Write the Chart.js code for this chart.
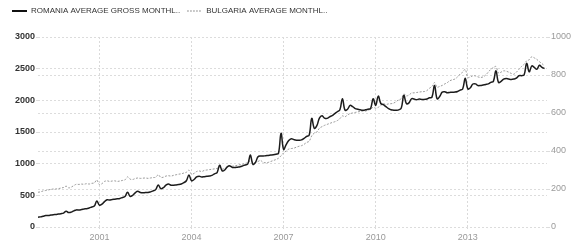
<!DOCTYPE html>
<html>
<head>
<meta charset="utf-8">
<script src="https://cdn.jsdelivr.net/npm/chart.js@4.4.0/dist/chart.umd.min.js"></script>
<style>
  html, body { margin: 0; padding: 0; background: #fff; }
  #wrap { width: 577px; height: 249px; }
</style>
</head>
<body>
<div id="wrap"><canvas id="wageChart"></canvas></div>
<script>
// monthly series, first value = Jan 1999
const firstYear = 1999;

// Romania average gross monthly wage (RON), left axis
const romaniaWages = [
  155, 160, 170, 180, 182, 188, 195, 198, 205, 210, 220, 250,
  228, 235, 255, 270, 268, 275, 285, 288, 300, 315, 330, 410,
  345, 360, 400, 430, 425, 435, 440, 445, 450, 465, 480, 550,
  482, 500, 540, 565, 545, 540, 545, 545, 555, 570, 590, 665,
  605, 620, 660, 680, 660, 660, 665, 670, 680, 700, 730, 820,
  730, 750, 790, 800, 790, 795, 800, 805, 815, 840, 860, 975,
  886, 900, 950, 965, 940, 940, 945, 950, 965, 980, 995, 1135,
  990, 1020, 1110, 1120, 1120, 1125, 1130, 1135, 1140, 1150, 1165, 1480,
  1225, 1300, 1365, 1395, 1380, 1370, 1370, 1375, 1400, 1430, 1450, 1715,
  1560, 1600, 1720, 1756, 1720, 1715, 1740, 1760, 1790, 1820, 1850, 2025,
  1845, 1860, 1920, 1900, 1870, 1860, 1850, 1845, 1850, 1860, 1870, 2025,
  1922, 2067, 1950, 1932, 1900, 1870, 1850, 1845, 1845, 1850, 1880, 2078,
  1947, 1960, 2025, 2020, 2010, 2020, 2015, 2015, 2020, 2040, 2051, 2233,
  2025, 2060, 2129, 2135, 2120, 2125, 2129, 2130, 2140, 2160, 2180, 2347,
  2180, 2200, 2258, 2260, 2233, 2235, 2243, 2250, 2260, 2284, 2300, 2466,
  2284, 2300, 2336, 2345, 2336, 2330, 2336, 2350, 2388, 2390, 2400, 2584,
  2450, 2543, 2520, 2491, 2553, 2520, 2502
];

// Bulgaria average monthly wage (BGN), right axis
const bulgariaWages = [
  183, 185, 190, 192, 195, 198, 200, 200, 202, 205, 208, 215,
  206, 210, 218, 225, 224, 226, 225, 228, 226, 230, 232, 247,
  223, 228, 240, 243, 240, 242, 243, 240, 242, 245, 248, 264,
  252, 250, 255, 258, 256, 257, 258, 256, 258, 260, 262, 275,
  261, 262, 268, 270, 268, 272, 275, 278, 280, 284, 288, 299,
  278, 282, 292, 295, 292, 298, 300, 302, 304, 306, 308, 315,
  305, 308, 318, 321, 320, 322, 325, 328, 330, 335, 338, 350,
  340, 338, 345, 350, 340, 338, 340, 345, 350, 355, 362, 375,
  390, 400, 410, 413, 415, 420, 425, 428, 435, 445, 451, 480,
  494, 500, 520, 528, 535, 540, 545, 550, 554, 560, 570, 585,
  580, 590, 597, 600, 603, 606, 608, 610, 610, 615, 620, 630,
  625, 630, 640, 649, 645, 648, 649, 652, 660, 670, 675, 700,
  690, 695, 705, 706, 708, 710, 712, 713, 718, 730, 740, 760,
  736, 740, 745, 753, 760, 770, 775, 779, 790, 805, 815, 830,
  787, 790, 796, 795, 790, 787, 790, 800, 815, 830, 839, 845,
  810, 815, 822, 820, 815, 808, 804, 815, 830, 845, 856, 875,
  880, 896, 890, 882, 870, 860, 848
];

const yearTicks = [2001, 2004, 2007, 2010, 2013];
const seriesNames = ['ROMANIA AVERAGE GROSS MONTHL..', 'BULGARIA AVERAGE MONTHL..'];

const toPoints = arr => arr.map((v, i) => ({ x: firstYear + i / 12, y: v }));

const font9 = { family: 'Liberation Sans, Arial, sans-serif', size: 9 };
const ctx = document.getElementById('wageChart').getContext('2d');

new Chart(ctx, {
    type: 'line',
    data: {
        datasets: [{
            label: seriesNames[0],
            data: toPoints(romaniaWages),
            borderColor: '#1c1c1c',
            backgroundColor: '#1c1c1c',
            borderWidth: 1.5,
            pointRadius: 0,
            tension: 0.4,
            yAxisID: 'yL'
        }, {
            label: seriesNames[1],
            data: toPoints(bulgariaWages),
            borderColor: '#9a9a9a',
            backgroundColor: '#9a9a9a',
            borderWidth: 1,
            borderDash: [2, 1.5],
            pointRadius: 0,
            tension: 0.35,
            yAxisID: 'yR'
        }]
    },
    options: {
        responsive: true,
        maintainAspectRatio: false,
        animation: false,
        layout: { padding: { left: 5, right: 0, top: 0, bottom: 0 } },
        plugins: {
            tooltip: { enabled: false },
            legend: {
                position: 'top',
                align: 'start',
                labels: {
                    usePointStyle: true,
                    pointStyleWidth: 15,
                    boxWidth: 15,
                    boxHeight: 8,
                    padding: 7,
                    color: '#333',
                    font: { family: 'Liberation Sans, Arial, sans-serif', size: 8 },
                    generateLabels: chart => Chart.defaults.plugins.legend.labels.generateLabels(chart)
                        .map((item, i) => ({
                            ...item,
                            pointStyle: 'line',
                            strokeStyle: i === 0 ? '#111' : '#777',
                            lineWidth: i === 0 ? 2 : 1,
                            lineDash: i === 0 ? [] : [1.5, 1.5]
                        }))
                }
            }
        },
        scales: {
            x: {
                type: 'linear',
                min: 1999,
                max: 2015.58,
                afterBuildTicks: scale => { scale.ticks = yearTicks.map(v => ({ value: v })); },
                afterFit: scale => { scale.height = 22; },
                border: { display: false, dash: [2, 2] },
                grid: { color: '#dadada', tickLength: 3, tickBorderDash: [2, 2] },
                ticks: {
                    padding: 2,
                    maxRotation: 0,
                    color: '#9a9a9a',
                    font: font9,
                    callback: v => String(v)
                }
            },
            yL: {
                position: 'left',
                min: 0,
                max: 3000,
                afterFit: scale => { scale.width = 33; },
                border: { display: false, dash: [2, 2] },
                grid: { color: '#dcdcdc', tickLength: 2 },
                ticks: {
                    stepSize: 500,
                    padding: 1,
                    color: '#333',
                    font: { ...font9, weight: 'bold' },
                    callback: v => String(v)
                }
            },
            yR: {
                position: 'right',
                min: 0,
                max: 1000,
                afterFit: scale => { scale.width = 30; },
                border: { display: false, dash: [2, 2] },
                grid: { color: '#dcdcdc', tickLength: 3 },
                ticks: {
                    stepSize: 200,
                    padding: 1,
                    color: '#9a9a9a',
                    font: font9,
                    callback: v => String(v)
                }
            }
        }
    },
    plugins: [{
        id: 'legendSpacer',
        afterInit(chart) {
            const fit = chart.legend.fit;
            chart.legend.fit = function () {
                fit.call(this);
                this.height += 12;
            };
        }
    }]
});
</script>
</body>
</html>
